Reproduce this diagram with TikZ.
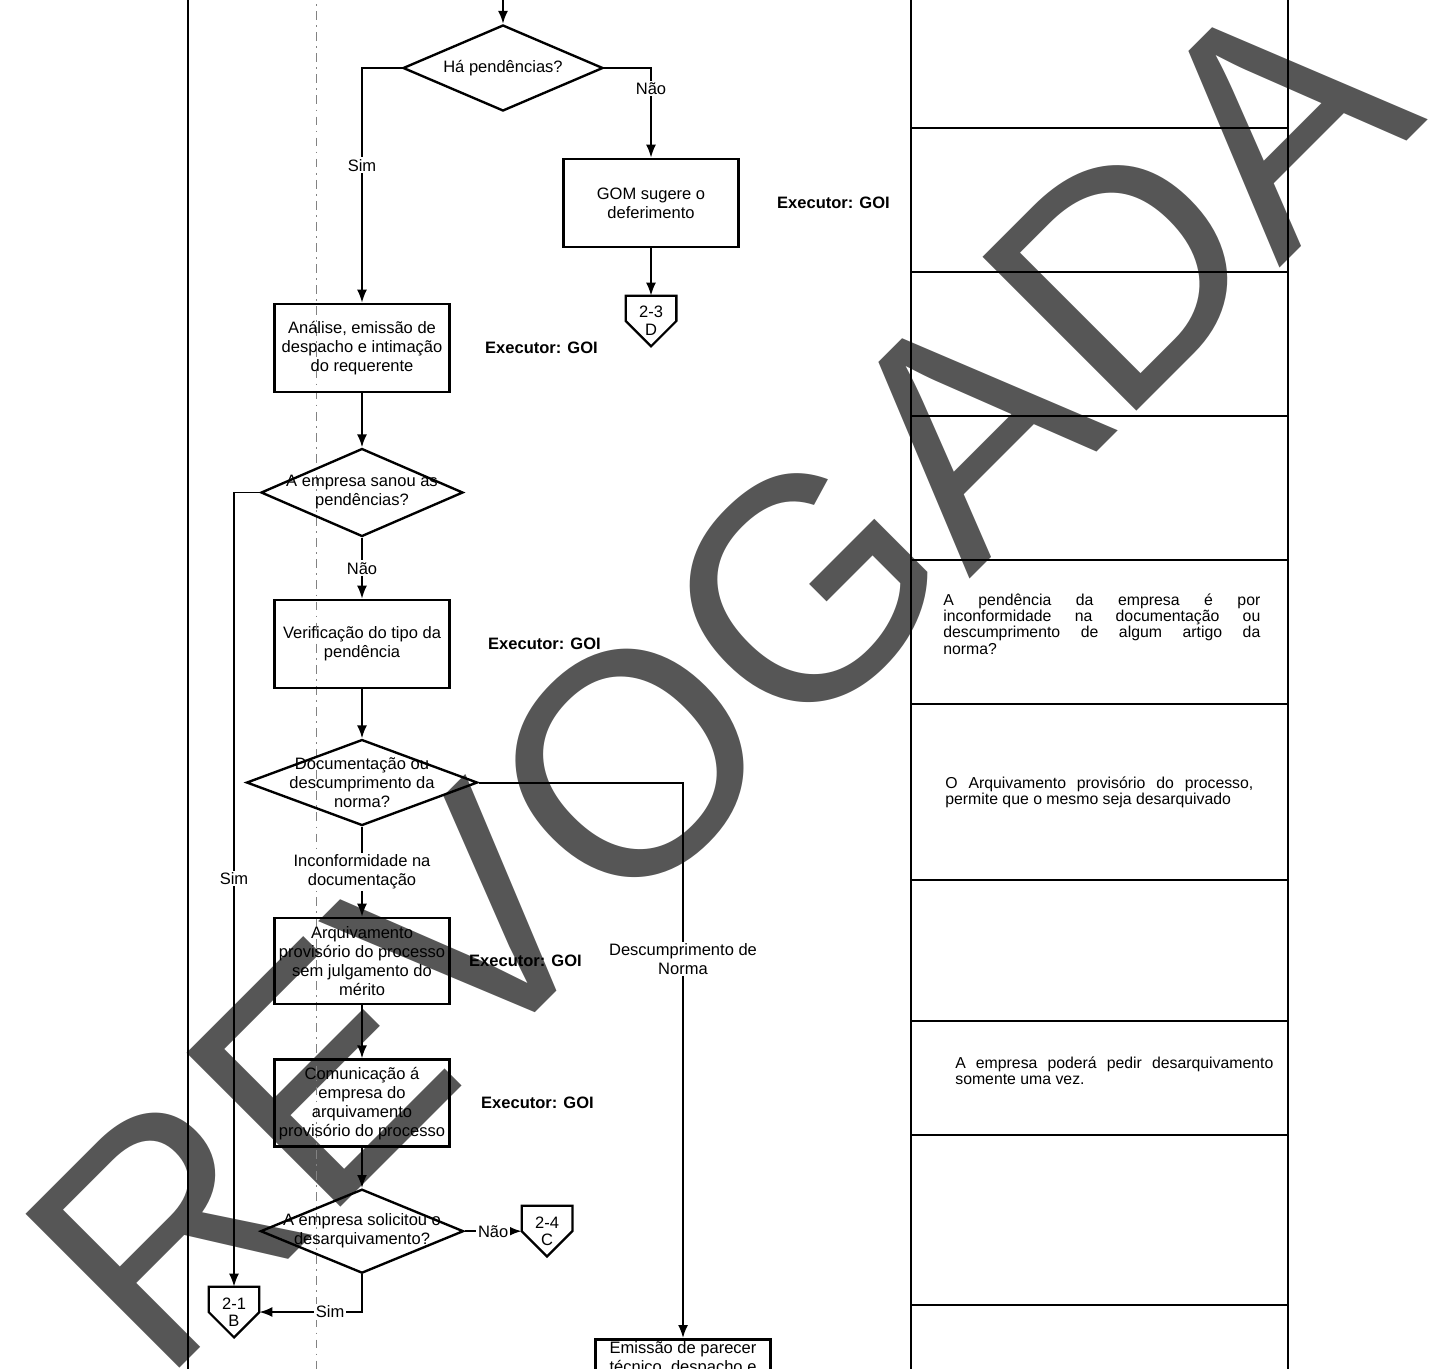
\documentclass[tikz,border=0pt]{standalone}
\usepackage{fontspec}
\setmainfont{Liberation Sans}
\usepackage{tikz}
\usetikzlibrary{arrows.meta,positioning,calc,shapes.geometric}
\definecolor{WmGray}{RGB}{86,86,86}
\definecolor{ScanGray}{RGB}{130,130,130}
\newcommand{\flowfont}{\fontsize{9.4}{10.8}\selectfont}
\newcommand{\notefont}{\fontsize{9}{9.2}\selectfont}

\begin{document}
\begin{tikzpicture}[x=0.2mm,y=-0.2mm,>={Latex[length=2.6mm,width=2mm]},every node/.style={font=\flowfont}]
\tikzset{pbox/.style={draw,line width=1.5pt,minimum width=35mm,minimum height=17.6mm,inner sep=1pt,align=center},
dbox/.style={draw,line width=1.35pt,diamond,inner sep=0pt,minimum width=40mm,minimum height=17.4mm},
dtxt/.style={align=center,inner sep=0pt},
offp/.style={minimum width=10mm,minimum height=10mm,inner sep=0pt,align=center,font=\fontsize{9.4}{10}\selectfont,
  append after command={\pgfextra{\draw[line width=1.3pt] (\tikzlastnode.north west)--(\tikzlastnode.north east)--(\tikzlastnode.east)--(\tikzlastnode.south)--(\tikzlastnode.west)--cycle;}}},
lbl/.style={fill=white,inner sep=1pt,align=center},
exe/.style={font=\flowfont\bfseries,inner sep=0pt},
note/.style={font=\notefont,anchor=west,align=left,inner sep=0pt},
flow/.style={->,line width=1.1pt},
frame/.style={line width=1.6pt},
crease/.style={ScanGray,line width=0.45pt,dash pattern=on 5pt off 3pt on 1pt off 3pt}}
\useasboundingbox (0,0) rectangle (1437,1368);
% watermark under everything
\node[rotate=45,text=WmGray,font=\fontsize{180}{180}\selectfont,inner sep=0pt] (wm) at (718,676) {REVOGADA};
% page frame and notes column
\draw[crease] (316,-10) -- (316,1380);
\draw[frame] (188,-10) -- (188,1380);
\draw[frame] (911,-10) -- (911,1380) (1288,-10) -- (1288,1380);
\draw[frame] (911,128) -- (1288,128) (911,272) -- (1288,272) (911,416) -- (1288,416) (911,560) -- (1288,560) (911,704) -- (1288,704)
  (911,880) -- (1288,880) (911,1021) -- (1288,1021) (911,1135) -- (1288,1135) (911,1305) -- (1288,1305);
% flow
\coordinate (in) at (503,-10);
\node[dbox,minimum width=40mm,minimum height=17.2mm,label={[dtxt]center:Há pendências?}] (pend) at (503,68) {};
\node[pbox] (gom) at (651,203) {GOM sugere o\\deferimento};
\node[offp] (cD) at (651,321) {2-3\\D};
\node[pbox] (ana) at (362,348) {Análise, emissão de\\despacho e intimação\\do requerente};
\node[dbox,below=10.8mm of ana,minimum width=40.4mm,minimum height=17.6mm,label={[dtxt]center:{A empresa sanou as\\pendências?}}] (sanou) {};
\node[pbox,below=12.2mm of sanou] (verif) {Verificação do tipo da\\pendência};
\node[dbox,below=9.8mm of verif,minimum width=46.2mm,minimum height=17.2mm,label={[dtxt]center:{Documentação ou\\descumprimento da\\norma?}}] (tipo) {};
\node[pbox,below=18mm of tipo,minimum height=17.2mm] (arq) {Arquivamento\\provisório do processo\\sem julgamento do\\mérito};
\node[pbox,below=10.6mm of arq,minimum height=17.4mm] (com) {Comunicação á\\empresa do\\arquivamento\\provisório do processo};
\node[dbox,below=8mm of com,minimum width=40.6mm,minimum height=16.8mm,label={[dtxt]center:{A empresa solicitou o\\desarquivamento?}}] (solic) {};
\node[offp,right=11.4mm of solic] (cC) {2-4\\C};
\node[offp] (cB) at (234,1312) {2-1\\B};
\node[pbox,anchor=north,minimum height=0pt] (emi) at (683,1338) {Emissão de parecer\\técnico, despacho e};
\node[exe,right=7.4mm of gom] (x1) {Executor: GOI};
\node[exe,right=6.8mm of ana] (x2) {Executor: GOI};
\node[exe,right=7.4mm of verif] (x3) {Executor: GOI};
\node[exe,right=3.6mm of arq] (x4) {Executor: GOI};
\node[exe,right=6mm of com] (x5) {Executor: GOI};
\draw[flow] (in) -- (pend);
\draw[flow] (pend.west) -| node[lbl,pos=0.707] (s1) {Sim} (ana.north);
\draw[flow] (pend.east) -| node[lbl,pos=0.615] (n1) {Não} (gom.north);
\draw[flow] (gom) -- (cD);
\draw[flow] (ana) -- (sanou);
\draw[flow] (sanou.west) -| node[lbl,pos=0.743] (s2) {Sim} (cB.north);
\draw[flow] (sanou) -- node[lbl] (n2) {Não} (verif);
\draw[flow] (verif) -- (tipo);
\draw[flow] (tipo.east) -| node[lbl,pos=0.659] (dn) {Descumprimento de\\Norma} (emi.north);
\draw[flow] (tipo) -- node[lbl] (idoc) {Inconformidade na\\documentação} (arq);
\draw[flow] (arq) -- (com);
\draw[flow] (com) -- (solic);
\draw[flow] (solic) -- node[lbl] (n3) {Não} (cC);
\draw[flow] (solic.south) |- node[lbl,pos=0.655] (s3) {Sim} (cB.east);
% notes
\node[note] (t1) at (943,624) {\makebox[63.4mm][s]{A pendência da empresa é por}\\\makebox[63.4mm][s]{inconformidade na documentação ou}\\\makebox[63.4mm][s]{descumprimento de algum artigo da}\\norma?};
\node[note] (t2) at (945,792) {\makebox[61.6mm][s]{O Arquivamento provisório do processo,}\\permite que o mesmo seja desarquivado};
\node[note] (t3) at (955,1071) {\makebox[63.6mm][s]{A empresa poderá pedir desarquivamento}\\somente uma vez.};
\end{tikzpicture}
\end{document}
